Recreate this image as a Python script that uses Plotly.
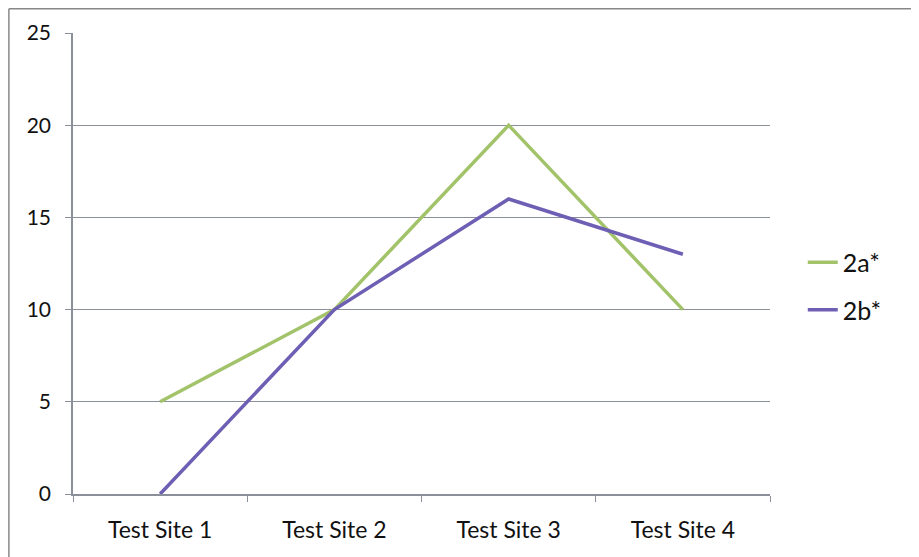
import plotly.graph_objects as go

categories = ["Test Site 1", "Test Site 2", "Test Site 3", "Test Site 4"]
series_2a = [5, 10, 20, 10]
series_2b = [0, 10, 16, 13]
y_ticks = [0, 5, 10, 15, 20, 25]

fig = go.Figure()
fig.add_trace(go.Scatter(x=categories, y=series_2a, mode="lines", name="2a*",
                         legendgroup="a", line=dict(color="#A2C36A", width=3.5)))
fig.add_trace(go.Scatter(x=categories, y=series_2b, mode="lines", name="2b*",
                         legendgroup="b", line=dict(color="#6E5FB4", width=3.5)))

fig.update_layout(
    width=911, height=549,
    margin=dict(l=65, r=149, t=25, b=63),
    paper_bgcolor="white", plot_bgcolor="white",
    font=dict(family="Lato, Carlito, sans-serif", size=21, color="#111111"),
    showlegend=True,
    legend=dict(x=1.047, xanchor="left", y=0.451, yanchor="middle",
                tracegroupgap=12, font=dict(size=25)),
    xaxis=dict(type="category", range=[-0.5, 3.5], tickson="boundaries",
               ticks="outside", ticklen=6, tickcolor="#8a8f99",
               tickfont=dict(size=23),
               showline=True, linecolor="#8a8f99", linewidth=1.5,
               showgrid=False, ticklabelstandoff=15, zeroline=False),
    yaxis=dict(range=[0, 25], tickvals=y_ticks, ticks="outside", ticklen=6,
               tickcolor="#8a8f99", showline=True, linecolor="#8a8f99",
               tickfont=dict(size=21),
               linewidth=1.5, showgrid=True, gridcolor="#8a8f99", gridwidth=1,
               ticklabelstandoff=10, zeroline=False),
    shapes=[
        dict(type="line", xref="paper", yref="paper", x0=-0.092, x1=1.22,
             y0=1.0526, y1=1.0526, line=dict(color="#888", width=1.5)),
        dict(type="line", xref="paper", yref="paper", x0=-0.092, x1=-0.092,
             y0=1.0526, y1=-0.14, line=dict(color="#888", width=1.5)),
    ],
)

fig.write_html("out.html")
